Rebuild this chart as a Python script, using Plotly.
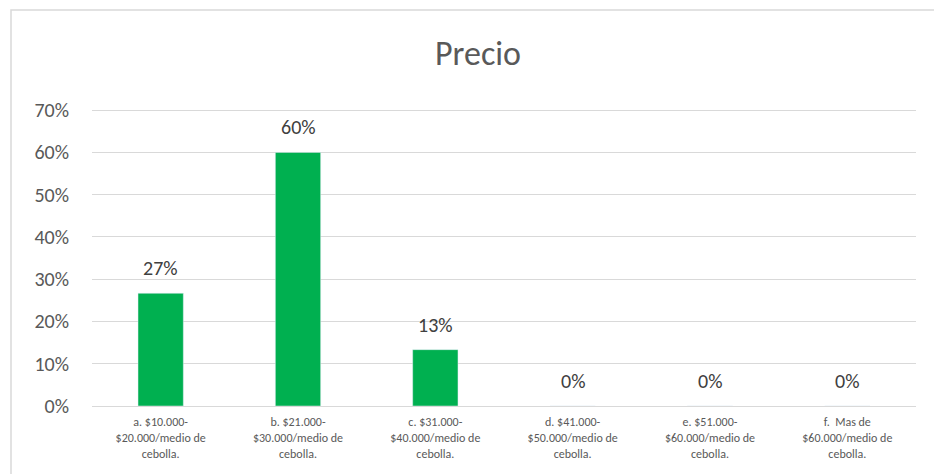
import plotly.graph_objects as go

CATEGORIES = [
    "a. $10.000-<br>$20.000/medio de<br>cebolla.",
    "b. $21.000-<br>$30.000/medio de<br>cebolla.",
    "c. $31.000-<br>$40.000/medio de<br>cebolla.",
    "d. $41.000-<br>$50.000/medio de<br>cebolla.",
    "e. $51.000-<br>$60.000/medio de<br>cebolla.",
    "f.  Mas de<br>$60.000/medio de<br>cebolla.",
]
VALUES = [0.2667, 0.60, 0.1333, 0.0, 0.0, 0.0]
LABELS = ["27%", "60%", "13%", "0%", "0%", "0%"]
Y_TICKS = [0, 0.1, 0.2, 0.3, 0.4, 0.5, 0.6, 0.7]
Y_MAX = 0.705  # a bit above 70% so the top gridline is still drawn

FONT = "Calibri, Carlito, Lato, sans-serif"

fig = go.Figure(go.Bar(
    x=CATEGORIES,
    y=VALUES,
    marker=dict(color="#00B050"),
    hoverinfo="skip",
))

# data labels above the bars
for cat, val, lab in zip(CATEGORIES, VALUES, LABELS):
    fig.add_annotation(
        x=cat, y=val, text=lab, showarrow=False,
        yshift=25, yanchor="middle",
        font=dict(size=20, color="#404040", family=FONT),
    )

# plot area: x 92..916, 0% at y=406, 70% at y=110
L, R, B = 92, 18, 68
T = round(406 - 296 * Y_MAX / 0.7)
W, H = 934 - L - R, 474 - T - B

fig.update_layout(
    width=934,
    height=474,
    margin=dict(l=L, r=R, t=T, b=B),
    paper_bgcolor="white",
    plot_bgcolor="white",
    bargap=0.67,
    showlegend=False,
    title=dict(
        text="Precio",
        x=478 / 934,
        xref="container",
        xanchor="center",
        y=1 - 53 / 474,
        yanchor="middle",
        font=dict(size=34, color="#595959", family=FONT),
    ),
    xaxis=dict(
        tickfont=dict(size=12, color="#595959", family=FONT),
        showline=True,
        linecolor="#D9D9D9",
        linewidth=1,
        ticks="",
        ticklabelstandoff=5,
    ),
    yaxis=dict(
        range=[0, Y_MAX],
        tickvals=Y_TICKS,
        tickformat=".0%",
        tickfont=dict(size=20, color="#595959", family=FONT),
        showgrid=True,
        gridcolor="#D9D9D9",
        gridwidth=1,
        zeroline=False,
        ticks="",
        ticklabelstandoff=22,
    ),
    shapes=[
        dict(
            type="rect",
            xref="paper", yref="paper",
            x0=(11 - L) / W, x1=(940 - L) / W,
            y0=(406 - 480) / H, y1=(406 - 10) / H,
            line=dict(color="#D9D9D9", width=1.5),
            layer="below",
        )
    ],
)

fig.write_html(
    "out.html",
    config={"displayModeBar": False},
    post_script="document.body.style.margin='0';",
)
